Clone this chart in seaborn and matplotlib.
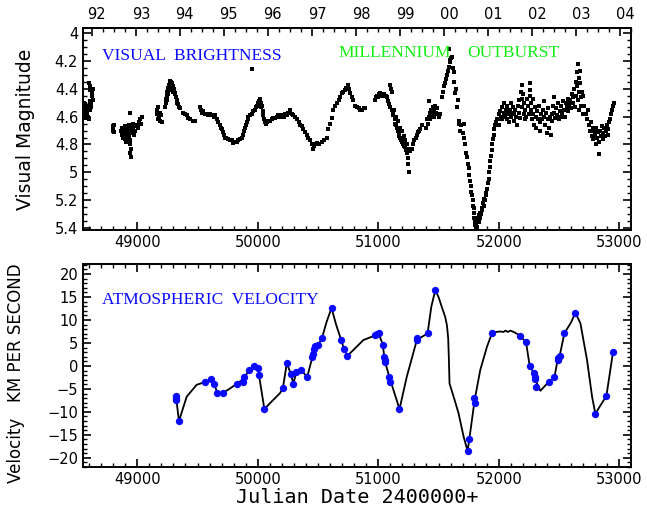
#!/usr/bin/env python3
import numpy as np
import pandas as pd
import matplotlib
matplotlib.use("Agg")
import matplotlib.pyplot as plt
import matplotlib.transforms as mtransforms
from matplotlib.ticker import MultipleLocator, FixedLocator
import seaborn as sns

sns.set_style("ticks")
plt.rc("font", family="DejaVu Sans", size=10)
plt.rc("axes", linewidth=1.4, edgecolor="black", labelcolor="black")
plt.rc("text", color="black")
plt.rc("xtick", color="black")
plt.rc("ytick", color="black")

BLUE = "#0a0aff"
GREEN = "#11ee11"

# visual magnitude estimates, (JD - 2400000, mag), by observing season
season_91 = [(48552, 4.55), (48555, 4.52), (48558, 4.58), (48560, 4.50), (48562, 4.60),
             (48565, 4.54), (48568, 4.57), (48570, 4.51), (48572, 4.61), (48575, 4.56),
             (48578, 4.53), (48580, 4.59), (48583, 4.55), (48586, 4.58), (48590, 4.52),
             (48595, 4.60), (48600, 4.62), (48605, 4.55), (48610, 4.50), (48612, 4.49),
             (48615, 4.53), (48620, 4.50), (48625, 4.42), (48630, 4.40), (48600, 4.36),
             (48605, 4.38), (48612, 4.41), (48628, 4.45), (48632, 4.48)]
season_92 = [(48795, 4.67), (48798, 4.69), (48802, 4.70), (48805, 4.66), (48808, 4.71),
             (48868, 4.70), (48872, 4.73), (48875, 4.68), (48880, 4.75), (48884, 4.71),
             (48888, 4.74), (48892, 4.69), (48895, 4.76), (48898, 4.72), (48902, 4.67),
             (48905, 4.74), (48908, 4.78), (48912, 4.70), (48915, 4.73), (48918, 4.76),
             (48922, 4.69), (48925, 4.72), (48928, 4.66), (48932, 4.74), (48935, 4.70),
             (48938, 4.77), (48940, 4.57), (48942, 4.80), (48945, 4.83), (48943, 4.86),
             (48948, 4.89), (48950, 4.72), (48955, 4.68), (48958, 4.71), (48962, 4.65),
             (48966, 4.69), (48970, 4.73), (48975, 4.67), (48985, 4.70), (48995, 4.66),
             (49005, 4.68), (49015, 4.64), (49022, 4.62), (49030, 4.65), (49038, 4.60)]
season_93 = [(49161, 4.58), (49165, 4.55), (49170, 4.62), (49175, 4.53), (49180, 4.60),
             (49185, 4.57), (49192, 4.63), (49198, 4.59), (49203, 4.64),
             (49232, 4.53), (49236, 4.50), (49240, 4.47), (49244, 4.45), (49248, 4.48),
             (49250, 4.42), (49254, 4.44), (49257, 4.39), (49260, 4.41), (49263, 4.37),
             (49266, 4.40), (49270, 4.35), (49273, 4.34), (49276, 4.37), (49280, 4.35),
             (49284, 4.38), (49288, 4.36), (49292, 4.40), (49296, 4.38), (49300, 4.42),
             (49305, 4.40), (49310, 4.44), (49315, 4.43), (49320, 4.46), (49326, 4.48),
             (49332, 4.50), (49340, 4.51), (49348, 4.53), (49355, 4.54),
             (49382, 4.57), (49395, 4.58), (49410, 4.59), (49425, 4.61), (49438, 4.62),
             (49460, 4.63), (49479, 4.63)]
season_94 = [(49521, 4.53), (49528, 4.55), (49535, 4.57), (49545, 4.56), (49562, 4.58),
             (49575, 4.58), (49590, 4.59), (49604, 4.58), (49620, 4.59), (49635, 4.60),
             (49645, 4.59), (49660, 4.62), (49673, 4.64), (49685, 4.66), (49695, 4.68),
             (49701, 4.69), (49712, 4.71), (49720, 4.73), (49728, 4.75), (49740, 4.75),
             (49756, 4.76), (49770, 4.77), (49784, 4.77), (49797, 4.79), (49812, 4.78),
             (49826, 4.78), (49840, 4.77), (49853, 4.76), (49867, 4.75)]
season_95 = [(49880, 4.73), (49888, 4.70), (49895, 4.68), (49902, 4.66), (49909, 4.64),
             (49915, 4.62), (49922, 4.60), (49935, 4.59), (49950, 4.58), (49955, 4.26),
             (49962, 4.56), (49977, 4.55), (49985, 4.53), (49992, 4.52), (50000, 4.50),
             (50010, 4.49), (50015, 4.47), (50019, 4.48), (50025, 4.50), (50030, 4.53),
             (50033, 4.52), (50040, 4.56), (50047, 4.59), (50055, 4.62), (50061, 4.64),
             (50070, 4.65), (50080, 4.64), (50088, 4.63), (50100, 4.63), (50116, 4.62),
             (50130, 4.61), (50145, 4.61), (50158, 4.60), (50170, 4.59)]
season_96 = [(50185, 4.60), (50199, 4.59), (50215, 4.60), (50230, 4.58), (50241, 4.59),
             (50255, 4.57), (50268, 4.55), (50280, 4.58), (50296, 4.59), (50310, 4.60),
             (50324, 4.62), (50338, 4.64), (50351, 4.66), (50365, 4.67), (50379, 4.69),
             (50393, 4.71), (50407, 4.73), (50420, 4.75), (50434, 4.77), (50448, 4.80),
             (50460, 4.83), (50466, 4.81), (50476, 4.80), (50490, 4.79), (50510, 4.80),
             (50532, 4.78), (50550, 4.77), (50573, 4.75),
             (50586, 4.69), (50600, 4.65), (50615, 4.61), (50628, 4.55), (50642, 4.52),
             (50656, 4.50), (50670, 4.48), (50684, 4.46), (50698, 4.43), (50711, 4.42),
             (50725, 4.41), (50735, 4.39), (50745, 4.37), (50752, 4.39), (50760, 4.40),
             (50767, 4.43), (50780, 4.46), (50794, 4.48), (50808, 4.52), (50820, 4.53),
             (50836, 4.54), (50850, 4.55), (50864, 4.55), (50878, 4.54), (50891, 4.54)]
season_98 = [(50974, 4.48), (50982, 4.46), (50990, 4.45), (51000, 4.46), (51010, 4.44),
             (51016, 4.43), (51030, 4.45), (51045, 4.44), (51060, 4.45), (51075, 4.46),
             (51082, 4.49), (51090, 4.51), (51099, 4.53), (51100, 4.37), (51108, 4.40),
             (51115, 4.42), (51110, 4.55), (51120, 4.58), (51126, 4.59), (51135, 4.62),
             (51140, 4.65), (51148, 4.66), (51154, 4.68), (51160, 4.70), (51168, 4.72),
             (51175, 4.74), (51182, 4.75), (51190, 4.77), (51198, 4.78), (51205, 4.80),
             (51212, 4.81), (51220, 4.82), (51228, 4.84), (51237, 4.86), (51243, 4.90),
             (51246, 4.94), (51251, 5.00), (51130, 4.55), (51150, 4.60), (51165, 4.63),
             (51180, 4.68), (51195, 4.70), (51210, 4.74), (51225, 4.77), (51240, 4.80),
             (51255, 4.83), (51265, 4.85), (51279, 4.83), (51290, 4.80), (51300, 4.77),
             (51310, 4.75), (51320, 4.73), (51330, 4.71), (51340, 4.70), (51348, 4.69),
             (51360, 4.66)]
season_00 = [(51400, 4.68), (51404, 4.62), (51410, 4.65), (51417, 4.49), (51420, 4.60),
             (51425, 4.57), (51432, 4.62), (51438, 4.55), (51445, 4.59), (51450, 4.53),
             (51459, 4.56), (51465, 4.60), (51472, 4.52), (51480, 4.57), (51487, 4.54),
             (51495, 4.58), (51505, 4.60), (51514, 4.58),
             (51528, 4.46), (51540, 4.42), (51548, 4.38), (51556, 4.36), (51565, 4.33),
             (51570, 4.30), (51577, 4.27), (51584, 4.24), (51590, 4.11), (51593, 4.19),
             (51597, 4.21), (51604, 4.18), (51611, 4.17), (51618, 4.25), (51625, 4.28),
             (51632, 4.35), (51639, 4.43), (51646, 4.40), (51653, 4.53), (51660, 4.48),
             (51666, 4.65), (51673, 4.63), (51680, 4.70), (51690, 4.66), (51700, 4.72),
             (51708, 4.65), (51715, 4.75), (51722, 4.80), (51729, 4.86), (51736, 4.89),
             (51742, 4.94), (51749, 4.97), (51756, 5.02), (51763, 5.06), (51768, 5.10),
             (51772, 5.14), (51777, 5.16), (51782, 5.20), (51787, 5.24), (51791, 5.26),
             (51795, 5.29), (51798, 5.33), (51801, 5.38), (51805, 5.35), (51808, 5.40),
             (51812, 5.37), (51816, 5.41), (51819, 5.36), (51823, 5.39), (51827, 5.33),
             (51832, 5.36), (51836, 5.31), (51841, 5.33), (51846, 5.29), (51852, 5.30),
             (51858, 5.26), (51864, 5.27), (51869, 5.22), (51874, 5.24), (51880, 5.19),
             (51886, 5.20), (51891, 5.15), (51896, 5.16), (51902, 5.12), (51908, 5.08),
             (51915, 5.05), (51920, 5.00), (51925, 4.96), (51929, 4.92), (51935, 4.88),
             (51940, 4.84), (51945, 4.80), (51950, 4.76), (51957, 4.73), (51964, 4.69),
             (51971, 4.66), (51978, 4.64), (51985, 4.62)]
season_02 = [(51990, 4.62), (52000, 4.58), (52005, 4.66), (52012, 4.56), (52020, 4.60),
             (52025, 4.53), (52030, 4.62), (52040, 4.57), (52045, 4.50), (52050, 4.60),
             (52058, 4.55), (52065, 4.62), (52070, 4.52), (52078, 4.58), (52085, 4.64),
             (52090, 4.55), (52098, 4.50), (52105, 4.60), (52110, 4.57), (52118, 4.53),
             (52125, 4.63), (52130, 4.58), (52138, 4.55), (52145, 4.60), (52150, 4.66),
             (52158, 4.52), (52165, 4.57), (52170, 4.48), (52178, 4.61), (52185, 4.42),
             (52190, 4.37), (52192, 4.47), (52195, 4.53), (52200, 4.44), (52205, 4.58),
             (52210, 4.50), (52215, 4.62), (52220, 4.55), (52228, 4.60), (52235, 4.47),
             (52240, 4.52), (52248, 4.58), (52255, 4.41), (52260, 4.36), (52262, 4.45),
             (52265, 4.50), (52270, 4.55), (52275, 4.62), (52280, 4.47), (52285, 4.58),
             (52290, 4.66), (52298, 4.53), (52305, 4.60), (52310, 4.68), (52318, 4.56),
             (52325, 4.62), (52330, 4.52), (52338, 4.64), (52345, 4.70), (52350, 4.58),
             (52358, 4.62), (52365, 4.55), (52372, 4.49), (52378, 4.60), (52385, 4.66),
             (52392, 4.57), (52398, 4.72), (52405, 4.62), (52412, 4.54), (52418, 4.68),
             (52425, 4.60), (52430, 4.73), (52438, 4.58), (52445, 4.63), (52452, 4.52),
             (52458, 4.46), (52462, 4.57), (52470, 4.61), (52478, 4.54), (52485, 4.59),
             (52492, 4.50), (52498, 4.62), (52505, 4.56), (52512, 4.60), (52518, 4.52),
             (52525, 4.57), (52532, 4.49), (52540, 4.55), (52548, 4.60), (52555, 4.50),
             (52562, 4.53), (52570, 4.47), (52578, 4.56), (52585, 4.51), (52592, 4.48),
             (52598, 4.54), (52605, 4.44), (52612, 4.50), (52618, 4.46), (52625, 4.40),
             (52630, 4.53), (52638, 4.35), (52642, 4.45), (52645, 4.28), (52650, 4.38),
             (52655, 4.48), (52658, 4.22), (52662, 4.32), (52665, 4.42), (52668, 4.55),
             (52672, 4.27), (52675, 4.36), (52680, 4.46), (52685, 4.52), (52690, 4.42),
             (52695, 4.58), (52700, 4.45), (52710, 4.52), (52720, 4.58), (52730, 4.62),
             (52740, 4.55), (52745, 4.66), (52755, 4.70), (52765, 4.64), (52770, 4.74),
             (52778, 4.68), (52785, 4.76), (52790, 4.70), (52797, 4.73), (52803, 4.80),
             (52810, 4.68), (52815, 4.75), (52822, 4.71), (52829, 4.87), (52835, 4.78),
             (52840, 4.70), (52848, 4.74), (52855, 4.67), (52862, 4.76), (52868, 4.72),
             (52875, 4.68), (52882, 4.74), (52888, 4.70), (52895, 4.66), (52902, 4.73),
             (52908, 4.69), (52915, 4.64), (52922, 4.62), (52930, 4.58), (52938, 4.55),
             (52945, 4.52), (52952, 4.50)]

# radial velocity measurements (blue dots)
vel_jd = [49321, 49323, 49325, 49346, 49564, 49615, 49640, 49665, 49709, 49826,
          49880, 49882, 49930, 49969, 50005, 50010, 50055, 50208, 50241, 50274,
          50296, 50318, 50360, 50410, 50454, 50462, 50468, 50478, 50503, 50532,
          50612, 50692, 50717, 50744, 50974, 50990, 51002, 51038, 51050, 51053,
          51055, 51093, 51095, 51176, 51320, 51325, 51409, 51473, 51741, 51755,
          51797, 51799, 51943, 52179, 52226, 52256, 52289, 52300, 52303, 52305,
          52417, 52461, 52488, 52490, 52505, 52544, 52635, 52801, 52893, 52948]
vel_kms = [-6.5, -7.0, -7.5, -12.0, -3.5, -2.9, -4.0, -5.9, -5.9, -3.9,
           -3.4, -2.5, -0.9, 0.0, -0.4, -2.0, -9.4, -4.9, 0.6, -1.7,
           -3.9, -1.4, -0.9, -2.4, 2.0, 2.6, 3.6, 4.3, 4.6, 6.0,
           12.6, 5.65, 3.6, 2.2, 6.7, 6.9, 7.2, 4.6, 2.0, 1.4,
           0.8, -2.3, -3.5, -9.4, 5.65, 6.0, 7.1, 16.5, -18.5, -16.0,
           -7.0, -8.1, 7.1, 6.5, 5.15, 0.06, -1.45, -2.3, -2.9, -4.5,
           -3.4, -2.5, 1.3, 1.8, 2.2, 7.1, 11.6, -10.4, -6.5, 3.1]

# smooth fitted velocity curve (black line)
curve_jd = [49321, 49346, 49410, 49493, 49564, 49615, 49640, 49665, 49709, 49770,
            49826, 49880, 49930, 49969, 50005, 50010, 50055, 50102, 50185, 50208,
            50241, 50274, 50296, 50318, 50360, 50410, 50454, 50478, 50503, 50532,
            50570, 50612, 50650, 50692, 50717, 50744, 50794, 50877, 50960, 51002,
            51038, 51053, 51093, 51176, 51237, 51320, 51409, 51440, 51473, 51500,
            51530, 51555, 51570, 51580, 51586, 51591, 51625, 51666, 51708, 51741,
            51755, 51799, 51846, 51902, 51943, 51975, 52012, 52040, 52055, 52075,
            52097, 52139, 52179, 52226, 52256, 52289, 52303, 52345, 52417, 52461,
            52488, 52505, 52544, 52600, 52635, 52677, 52732, 52774, 52801, 52893,
            52948]
curve_kms = [-6.5, -12.0, -6.7, -4.1, -3.5, -2.9, -4.0, -5.9, -5.9, -4.9,
             -3.9, -2.8, -0.9, 0.0, -0.4, -2.0, -9.4, -8.1, -5.9, -4.9,
             0.6, -1.7, -3.9, -1.4, -0.9, -2.4, 2.0, 4.3, 4.6, 6.0,
             9.5, 12.6, 9.0, 5.65, 3.6, 2.2, 3.5, 5.65, 6.5, 7.2,
             4.6, 1.2, -2.5, -9.4, -2.3, 5.65, 7.1, 12.9, 16.5, 15.0,
             12.6, 10.7, 8.8, 6.0, 1.3, -3.8, -6.7, -10.3, -15.4, -18.5,
             -16.0, -7.5, -0.9, 4.2, 7.1, 7.4, 7.5, 7.4, 7.7, 7.4,
             7.7, 7.2, 6.5, 5.15, 0.06, -1.45, -3.0, -5.4, -3.4, -2.5,
             1.3, 2.2, 7.1, 9.5, 11.6, 9.3, 1.3, -6.7, -10.4, -6.5,
             3.1]

year_labels = ["92", "93", "94", "95", "96", "97", "98", "99", "00", "01", "02", "03", "04"]

seasons = [season_91, season_92, season_93, season_94, season_95, season_96,
           season_98, season_00, season_02]
mag_df = pd.DataFrame([p for s in seasons for p in s], columns=["jd", "mag"])
vel_df = pd.DataFrame({"jd": vel_jd, "v": vel_kms})
curve_df = pd.DataFrame({"jd": curve_jd, "v": curve_kms})

fig = plt.figure(figsize=(6.47, 5.12), dpi=100)
ax1 = fig.add_axes([0.1283, 0.5508, 0.847, 0.3945])
ax2 = fig.add_axes([0.1283, 0.0879, 0.847, 0.3965])

XLIM = (48550, 53097)
ANNOT = dict(fontsize=12.5, family="Liberation Serif", va="center")

# --- top: visual brightness
sns.scatterplot(data=mag_df, x="jd", y="mag", ax=ax1, color="black", marker="s",
                s=5, linewidth=0, legend=False)
ax1.set_xlim(*XLIM)
ax1.set_ylim(5.415, 3.962)
ax1.set_xlabel("")
ax1.set_ylabel("Visual Magnitude", fontsize=13.5)
ax1.yaxis.set_label_coords(-0.088, 0.5)
ax1.xaxis.set_major_locator(MultipleLocator(1000))
ax1.xaxis.set_minor_locator(MultipleLocator(100))
ax1.yaxis.set_minor_locator(MultipleLocator(0.05))
ax1.set_yticks([4, 4.2, 4.4, 4.6, 4.8, 5, 5.2, 5.4],
               ["4", "4.2", "4.4", "4.6", "4.8", "5", "5.2", "5.4"])
ax1.tick_params(which="both", direction="in", right=True, top=False, labelsize=10.5)
ax1.tick_params(which="major", length=6, width=1.2)
ax1.tick_params(which="minor", length=3, width=1.0)

# year axis on top
year_jd = [pd.Timestamp(1992 + i, 1, 1).to_julian_date() - 2400000 for i in range(13)]
quarter_jd = [pd.Timestamp(1991 + i // 3, 4 + 3 * (i % 3), 1).to_julian_date() - 2400000
              for i in range(3 * 14)]
top = ax1.secondary_xaxis("top")
top.set_xticks(year_jd, year_labels)
top.xaxis.set_minor_locator(FixedLocator(quarter_jd))
top.tick_params(which="both", direction="in", labelsize=10.5, pad=4)
top.tick_params(which="major", length=6, width=1.2)
top.tick_params(which="minor", length=3, width=1.0)
shift = mtransforms.ScaledTranslation(0.05, 0, fig.dpi_scale_trans)
for lab in top.get_xticklabels():
    lab.set_transform(lab.get_transform() + shift)

ax1.text(48707, 4.16, "VISUAL  BRIGHTNESS", color=BLUE, **ANNOT)
ax1.text(50667, 4.145, "MILLENNIUM", color=GREEN, **ANNOT)
ax1.text(51738, 4.145, "OUTBURST", color=GREEN, **ANNOT)

# --- bottom: atmospheric velocity
sns.lineplot(data=curve_df, x="jd", y="v", ax=ax2, color="black", linewidth=1.3,
             estimator=None, sort=True)
sns.scatterplot(data=vel_df, x="jd", y="v", ax=ax2, color=BLUE, s=28,
                linewidth=0, zorder=3, legend=False)
ax2.set_xlim(*XLIM)
ax2.set_ylim(-22, 22.2)
ax2.xaxis.set_major_locator(MultipleLocator(1000))
ax2.xaxis.set_minor_locator(MultipleLocator(100))
ax2.yaxis.set_major_locator(MultipleLocator(5))
ax2.yaxis.set_minor_locator(MultipleLocator(1))
ax2.tick_params(which="both", direction="in", right=True, top=True, labelsize=10.5)
ax2.tick_params(which="major", length=6, width=1.2)
ax2.tick_params(which="minor", length=3, width=1.0)
ax2.set_xlabel("Julian Date 2400000+", fontsize=14.5, family="DejaVu Sans Mono",
               labelpad=1)
ax2.set_ylabel("Velocity   KM PER SECOND", fontsize=12)
ax2.yaxis.set_label_coords(-0.106, 0.463)
ax2.text(48706, 14.35, "ATMOSPHERIC  VELOCITY", color=BLUE, **ANNOT)

fig.savefig("out.png", dpi=100)
